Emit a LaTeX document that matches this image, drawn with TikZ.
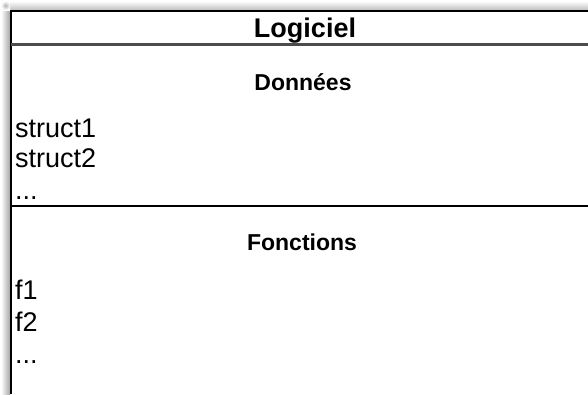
\documentclass[tikz,border=0pt]{standalone}
\usepackage{fontspec}
\setmainfont{Liberation Sans}
\begin{document}
\begin{tikzpicture}[x=1pt,y=-1pt,
  title/.style={font=\bfseries\fontsize{27}{30}\selectfont, inner sep=0pt, anchor=base},
  sect/.style={font=\bfseries\fontsize{23}{26}\selectfont, inner sep=0pt, anchor=base},
  item/.style={font=\fontsize{27}{30}\selectfont, inner sep=0pt, anchor=base west},
  border/.style={line width=2pt, black},
  sep/.style={line width=1.6pt, black}]
\useasboundingbox (0,0) rectangle (588,394);
% soft shadow
\shade[left color=white, right color=black!35] (1,10) rectangle (10,394);
\shade[top color=white, bottom color=black!25] (10,1) rectangle (588,10);
\shade[inner color=black!30, outer color=white] (1,1) rectangle (10,10);
% frame
\coordinate (tl) at (11,10.5);
\coordinate (tr) at (588,10.5);
\coordinate (bl) at (11,394);
\coordinate (hl) at (11,44.5);
\coordinate (hr) at (588,44.5);
\coordinate (sl) at (11,206);
\coordinate (sr) at (588,206);
\draw[border] (tr) -- (tl) -- (bl);
\draw[line width=2.2pt, black!70] (hl) -- (hr);
\draw[sep] (sl) -- (sr);
% texts
\node[title] (t) at (305,37) {Logiciel};
\node[sect] (d) at (303,90) {Données};
\node[item] (s1) at (15,137) {struct1};
\node[item] (s2) at (15,167) {struct2};
\node[item] (s3) at (15,199) {...};
\node[sect] (f) at (302,250) {Fonctions};
\node[item] (f1) at (15,299) {f1};
\node[item] (f2) at (15,331) {f2};
\node[item] (f3) at (15,363) {...};
\end{tikzpicture}
\end{document}
